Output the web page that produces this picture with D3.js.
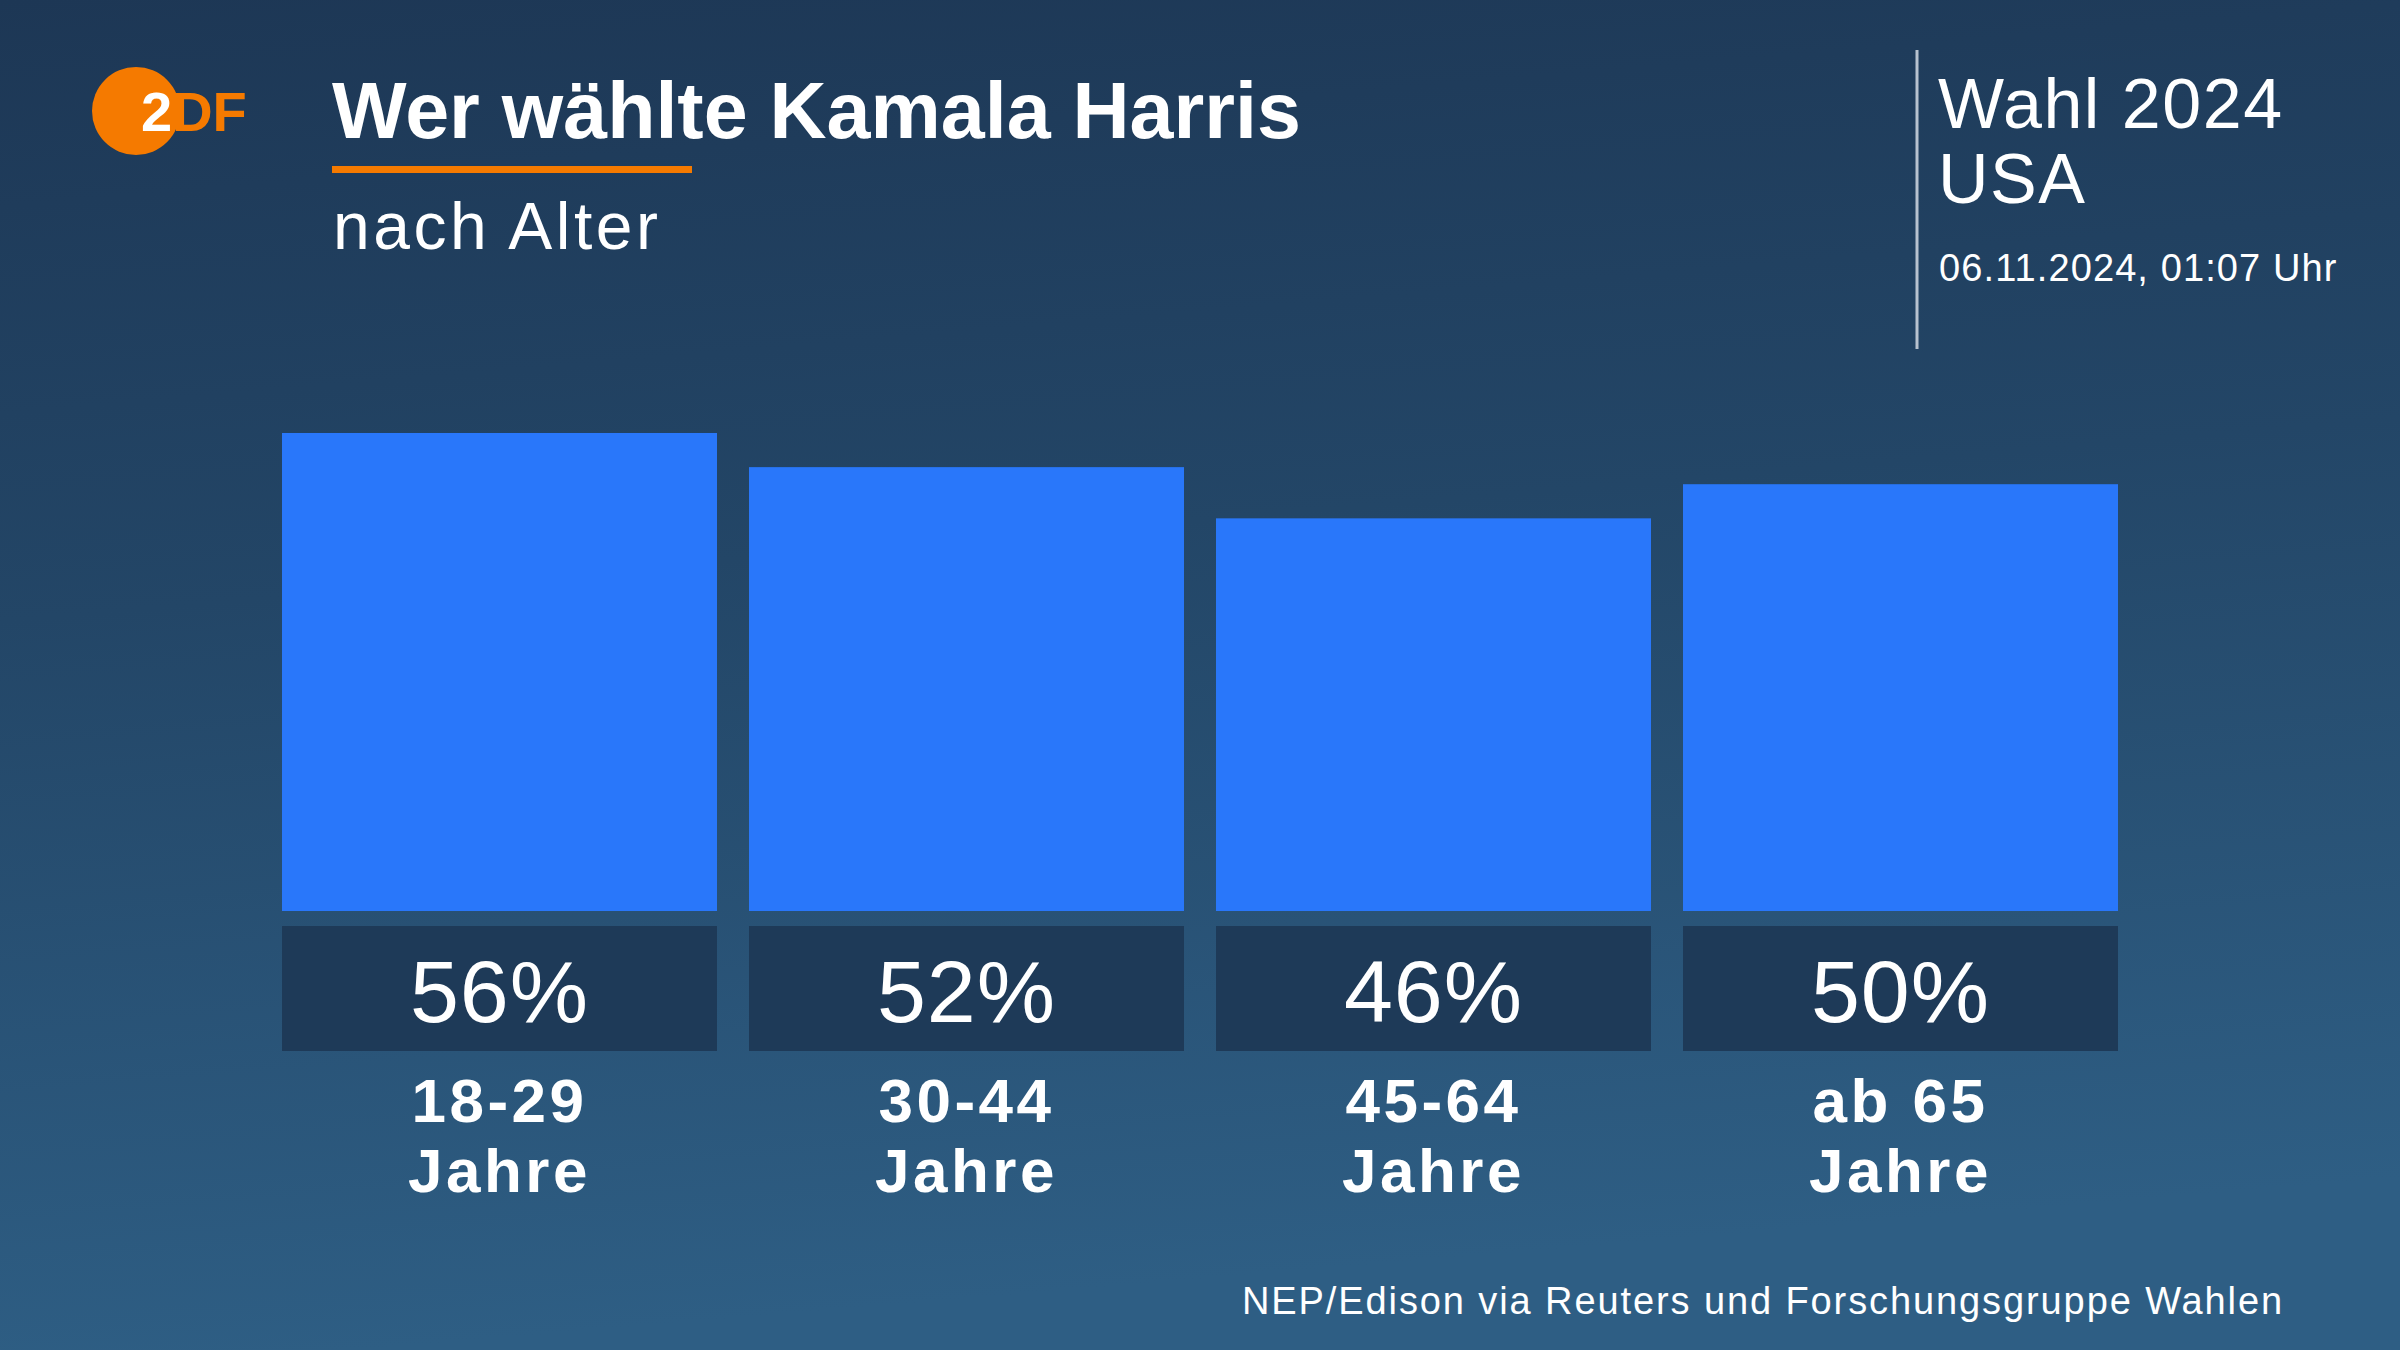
<!DOCTYPE html>
<html>
<head>
<meta charset="utf-8">
<script src="https://cdn.jsdelivr.net/npm/d3@7"></script>
<style>
  html, body { margin: 0; padding: 0; background: #1e3a58; }
  svg { display: block; }
</style>
</head>
<body>
<svg id="chart" width="2400" height="1350"></svg>
<script>
const categories = ["18-29", "30-44", "45-64", "ab 65"];
const categorySub = ["Jahre", "Jahre", "Jahre", "Jahre"];
const values = [56, 52, 46, 50];
const valueLabels = ["56%", "52%", "46%", "50%"];

const title = "Wer wählte Kamala Harris";
const subtitle = "nach Alter";
const headerLines = ["Wahl 2024", "USA"];
const dateLine = "06.11.2024, 01:07 Uhr";
const source = "NEP/Edison via Reuters und Forschungsgruppe Wahlen";

const W = 2400, H = 1350;
const svg = d3.select("#chart");
const defs = svg.append("defs");

const bg = defs.append("linearGradient").attr("id", "bg")
  .attr("x1", 0).attr("y1", 0).attr("x2", 0.15).attr("y2", 1);
bg.append("stop").attr("offset", "0%").attr("stop-color", "#1d3755");
bg.append("stop").attr("offset", "45%").attr("stop-color", "#234667");
bg.append("stop").attr("offset", "100%").attr("stop-color", "#2e5e84");
svg.append("rect").attr("width", W).attr("height", H).attr("fill", "url(#bg)");

const font = "'Liberation Sans', Arial, Helvetica, sans-serif";
const orange = "#f57a00";

// Logo
const logo = svg.append("g");
logo.append("circle").attr("cx", 136).attr("cy", 111).attr("r", 44).attr("fill", orange);
logo.append("text").attr("x", 141).attr("y", 131)
  .attr("font-family", font).attr("font-weight", 700).attr("font-size", 56)
  .call(t => {
    t.append("tspan").attr("fill", "#ffffff").text("2");
    t.append("tspan").attr("fill", orange).text("DF");
  });

// Title
svg.append("text").attr("x", 332).attr("y", 138)
  .attr("font-family", font).attr("font-weight", 700).attr("font-size", 79)
  .attr("fill", "#ffffff").text(title);
svg.append("rect").attr("x", 332).attr("y", 166).attr("width", 360).attr("height", 7).attr("fill", orange);
svg.append("text").attr("x", 333).attr("y", 249)
  .attr("font-family", font).attr("font-size", 66).attr("letter-spacing", 3.5)
  .attr("fill", "#ffffff").text(subtitle);

// Header right
svg.append("line").attr("x1", 1917).attr("x2", 1917).attr("y1", 50).attr("y2", 349)
  .attr("stroke", "#b7c2cf").attr("stroke-width", 3);
svg.append("g").selectAll("text").data(headerLines).join("text")
  .attr("x", 1938).attr("y", (d, i) => 128 + i * 75)
  .attr("font-family", font).attr("font-size", 70).attr("letter-spacing", 1.5)
  .attr("fill", "#ffffff").text(d => d);
svg.append("text").attr("x", 1939).attr("y", 281)
  .attr("font-family", font).attr("font-size", 38).attr("letter-spacing", 1.1)
  .attr("fill", "#ffffff").text(dateLine);

// Scales
const x = d3.scaleBand().domain(categories).range([282, 2118]).paddingInner(32 / 467).paddingOuter(0);
const y = d3.scaleLinear().domain([0, 60]).range([911, 911 - 60 * 8.536]);

// Bars
svg.append("g").selectAll("rect").data(values).join("rect")
  .attr("x", (d, i) => x(categories[i]))
  .attr("y", d => y(d))
  .attr("width", x.bandwidth())
  .attr("height", d => y(0) - y(d))
  .attr("fill", "#2977fa");

// Value boxes
const boxes = svg.append("g").selectAll("g").data(values).join("g");
boxes.append("rect")
  .attr("x", (d, i) => x(categories[i]))
  .attr("y", 926).attr("width", x.bandwidth()).attr("height", 125)
  .attr("fill", "#1e3a58");
boxes.append("text")
  .attr("x", (d, i) => x(categories[i]) + x.bandwidth() / 2)
  .attr("y", 1022).attr("text-anchor", "middle")
  .attr("font-family", font).attr("font-size", 88).attr("letter-spacing", 1)
  .attr("fill", "#ffffff").text((d, i) => valueLabels[i]);

// Category labels (two lines)
const labelG = svg.append("g")
  .attr("font-family", font).attr("font-weight", 700).attr("font-size", 62)
  .attr("letter-spacing", 3.5).attr("fill", "#ffffff").attr("text-anchor", "middle");
labelG.selectAll("text.l1").data(categories).join("text").attr("class", "l1")
  .attr("x", d => x(d) + x.bandwidth() / 2).attr("y", 1122).text(d => d);
labelG.selectAll("text.l2").data(categories).join("text").attr("class", "l2")
  .attr("x", d => x(d) + x.bandwidth() / 2).attr("y", 1192).text((d, i) => categorySub[i]);

// Source
svg.append("text").attr("x", 2284).attr("y", 1314).attr("text-anchor", "end")
  .attr("font-family", font).attr("font-size", 38).attr("letter-spacing", 1.9)
  .attr("fill", "#ffffff").text(source);
</script>
</body>
</html>
